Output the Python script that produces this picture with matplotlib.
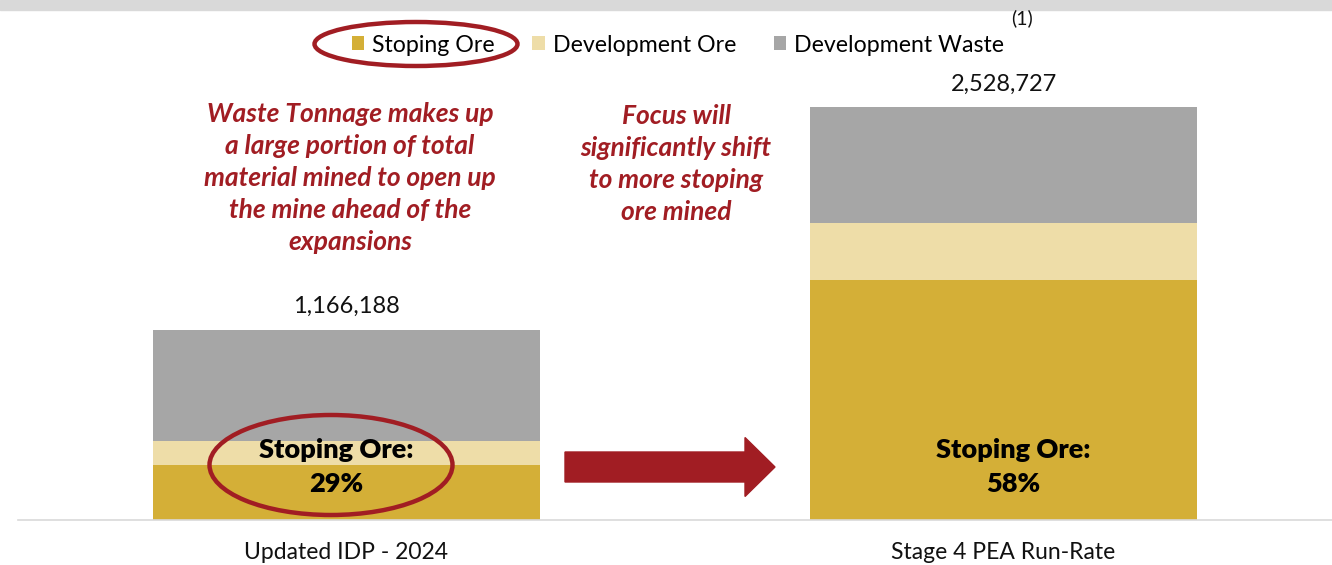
import matplotlib.pyplot as plt
from matplotlib.patches import Ellipse, FancyArrow, Rectangle

# data (tonnes)
categories = ["Updated IDP - 2024", "Stage 4 PEA Run-Rate"]
totals = [1166188, 2528727]
stoping_ore = [338195, 1466662]
dev_ore = [147000, 354000]
dev_waste = [t - s - d for t, s, d in zip(totals, stoping_ore, dev_ore)]
stoping_pct = ["29%", "58%"]

GOLD = "#D4AF37"
CREAM = "#EEDDA8"
GREY = "#A6A6A6"
RED = "#A11D23"
FONT = "Lato"

plt.rcParams["font.family"] = [FONT, "DejaVu Sans"]

W, H = 1332, 565
fig = plt.figure(figsize=(W / 100, H / 100), dpi=100)

# helper: pixel -> figure fraction
def fx(px):
    return px / W

def fy(py):
    return 1 - py / H

ax = fig.add_axes([fx(18), fy(520), fx(1332) - fx(18), fy(10) - fy(520)])
x = range(len(categories))
width = 0.59
b1 = ax.bar(x, stoping_ore, width, color=GOLD, label="Stoping Ore", zorder=2)
b2 = ax.bar(x, dev_ore, width, bottom=stoping_ore, color=CREAM, label="Development Ore", zorder=2)
bottoms = [s + d for s, d in zip(stoping_ore, dev_ore)]
b3 = ax.bar(x, dev_waste, width, bottom=bottoms, color=GREY, label="Development Waste", zorder=2)

ax.set_xlim(-0.5, 1.5)
ax.set_ylim(0, 3.123e6)
for s in ["top", "right", "left"]:
    ax.spines[s].set_visible(False)
ax.spines["bottom"].set_color("#D9D9D9")
ax.spines["bottom"].set_linewidth(1.2)
ax.set_yticks([])
ax.set_xticks(list(x))
ax.set_xticklabels(categories, fontsize=16.5, color="#111111")
ax.tick_params(axis="x", length=0, pad=16)

# totals above bars
for i, t in enumerate(totals):
    ax.text(i, t + 0.075e6, f"{t:,}", ha="center", va="bottom", fontsize=17, color="#111111")

# stoping ore labels
offsets = [-0.016, 0.015]
for i, p in enumerate(stoping_pct):
    ax.text(i + offsets[i], 0.325e6, f"Stoping Ore:\n{p}", ha="center",
            va="center", fontsize=19.5, fontweight="heavy", color="#000000", linespacing=1.5)

# top grey strip
fig.patches.append(Rectangle((0, fy(10)), 1, 1 - fy(10), transform=fig.transFigure,
                             color="#D9D9D9", zorder=0))

# legend
leg = fig.legend(handles=[b1, b2, b3], loc="center", bbox_to_anchor=(fx(678), fy(45)),
                 ncol=3, frameon=False, fontsize=16.7, handlelength=0.55, handleheight=0.55,
                 handletextpad=0.35, columnspacing=1.6)
fig.text(fx(1022), fy(18), "(1)", ha="center", va="center", fontsize=14, color="#111111")

# callout texts
fig.text(fx(350), fy(178), "Waste Tonnage makes up\na large portion of total\nmaterial mined to open up\nthe mine ahead of the\nexpansions",
         ha="center", va="center", fontsize=19, fontweight="bold", fontstyle="italic",
         color=RED, linespacing=1.4)
fig.text(fx(676), fy(164), "Focus will\nsignificantly shift\nto more stoping\nore mined",
         ha="center", va="center", fontsize=19, fontweight="bold", fontstyle="italic",
         color=RED, linespacing=1.4)

# ellipses
fig.patches.append(Ellipse((fx(331), fy(465)), fx(243), 100 / H, transform=fig.transFigure,
                           fill=False, edgecolor=RED, linewidth=3.2, zorder=5))
fig.patches.append(Ellipse((fx(416), fy(44)), fx(203), 44 / H, transform=fig.transFigure,
                           fill=False, edgecolor=RED, linewidth=3.2, zorder=5))

# arrow
fig.patches.append(FancyArrow(fx(565), fy(467), fx(775) - fx(565), 0, width=30 / H,
                              head_width=59 / H, head_length=fx(30), length_includes_head=True,
                              transform=fig.transFigure, color="#A11D23", zorder=5))

fig.savefig("out.png", dpi=100)
